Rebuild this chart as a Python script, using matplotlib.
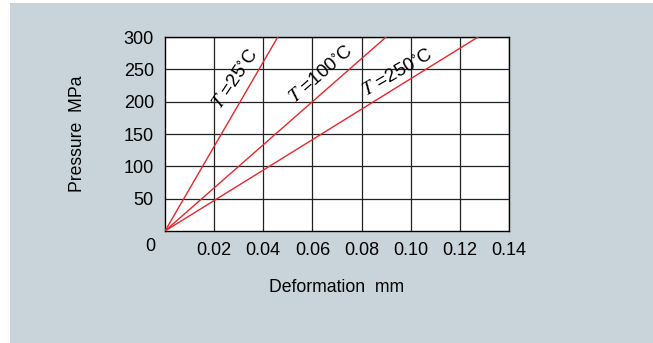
import matplotlib
matplotlib.use("Agg")
import matplotlib.pyplot as plt
from matplotlib.patches import Rectangle

plt.rcParams['font.family'] = ['Liberation Sans', 'DejaVu Sans']
plt.rcParams['mathtext.fontset'] = 'stix'

# Data
temps = ["25", "100", "250"]
deform_at_300 = [0.0459, 0.0900, 0.1274]   # deformation (mm) where each line reaches 300 MPa
pressure_max = 300
x_ticks = [0.02, 0.04, 0.06, 0.08, 0.10, 0.12, 0.14]
x_ticklabels = ["0.02", "0.04", "0.06", "0.08", "0.10", "0.12", "0.14"]
y_ticks = [50, 100, 150, 200, 250, 300]
y_ticklabels = ["50", "100", "150", "200", "250", "300"]
label_pos = [(0.0226, 188), (0.0527, 197), (0.0818, 208)]
label_rot = [56, 41, 30]

W, H = 653, 343
fig = plt.figure(figsize=(W / 100, H / 100), dpi=100)
fig.patch.set_facecolor('white')
fig.patches.append(Rectangle((10 / W, 0), 1 - 10 / W, 1 - 3 / H, transform=fig.transFigure,
                             facecolor='#c9d4da', edgecolor='none', zorder=-10))

ax = fig.add_axes([165 / W, (H - 231) / H, (509 - 165) / W, (231 - 37) / H])
ax.set_zorder(5)
ax.set_facecolor('white')
ax.set_xlim(0, 0.14)
ax.set_ylim(0, 300)
ax.set_xticks(x_ticks)
ax.set_xticklabels(x_ticklabels, fontsize=13)
ax.set_yticks(y_ticks)
ax.set_yticklabels(y_ticklabels, fontsize=13)
ax.tick_params(length=0, pad=8)
ax.grid(True, color='#222222', linewidth=0.9)
ax.set_axisbelow(True)
for s in ax.spines.values():
    s.set_color('black')
    s.set_linewidth(1.0)

for t, xe, (lx, ly), rot in zip(temps, deform_at_300, label_pos, label_rot):
    ax.plot([0, xe], [0, pressure_max], color='#e8262b', linewidth=1.0, clip_on=True, zorder=3)
    ax.text(lx, ly, r"$T$ =" + t + r"$^{\circ}$C", rotation=rot, rotation_mode='anchor',
            ha='left', va='baseline', fontsize=13.5, zorder=4)

ax.text(-0.006, -24, "0", ha='center', va='center', fontsize=13, clip_on=False)

t1 = fig.text(77 / W, 1 - 134 / H, "Pressure  MPa", rotation=90, ha='center', va='center', fontsize=12.7)
t2 = fig.text(337 / W, 1 - 287 / H, "Deformation  mm", ha='center', va='center', fontsize=12.7)
t1.set_zorder(6); t2.set_zorder(6)

fig.savefig("out.png", dpi=100)
